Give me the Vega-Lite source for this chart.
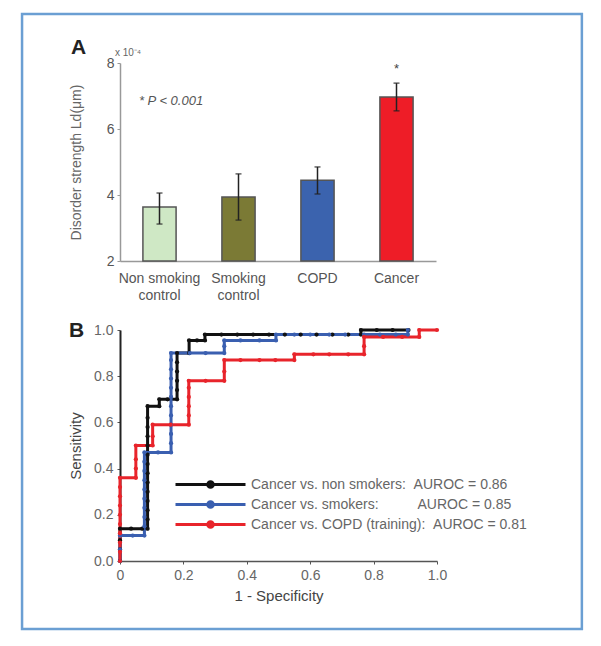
{
  "$schema": "https://vega.github.io/schema/vega-lite/v6.json",
  "padding": {"left": 20, "top": 12, "right": 5, "bottom": 5},
  "bounds": "flush",
  "spacing": 69,
  "resolve": {"scale": {"color": "independent"}, "legend": {"color": "independent"}},
  "config": {
    "font": "Liberation Sans",
    "view": {"stroke": null},
    "axis": {"grid": false, "labelFont": "Liberation Sans", "titleFont": "Liberation Sans", "titleFontWeight": "normal", "labelFlush": false}
  },
  "vconcat": [
    {
      "width": 316,
      "height": 198,
      "data": {"values": [
        {"group": "Non smoking control", "mean": 3.64, "lo": 3.12, "hi": 4.06},
        {"group": "Smoking control", "mean": 3.94, "lo": 3.24, "hi": 4.64},
        {"group": "COPD", "mean": 4.45, "lo": 4.03, "hi": 4.85},
        {"group": "Cancer", "mean": 6.97, "lo": 6.55, "hi": 7.39}
      ]},
      "encoding": {
        "x": {
          "field": "group", "type": "nominal", "sort": null,
          "scale": {"paddingInner": 0.58, "paddingOuter": 0.29},
          "axis": {
            "title": null, "labelAngle": 0, "ticks": false, "domainColor": "#999", "domainWidth": 1.5,
            "labelFontSize": 14, "labelColor": "#555", "labelPadding": 10, "labelLineHeight": 17,
            "labelExpr": "datum.value == 'Non smoking control' ? ['Non smoking', 'control'] : datum.value == 'Smoking control' ? ['Smoking', 'control'] : datum.value"
          }
        }
      },
      "layer": [
        {
          "mark": {"type": "bar", "stroke": "#555", "strokeWidth": 1.5},
          "encoding": {
            "y": {
              "field": "mean", "type": "quantitative", "title": "Disorder strength Ld(μm)",
              "scale": {"domain": [2, 8], "nice": false, "zero": false},
              "axis": {
                "values": [2, 3, 4, 5, 6, 7, 8],
                "labelExpr": "datum.value % 2 == 0 ? datum.label : ''",
                "domainColor": "#999", "domainWidth": 1.5, "tickColor": "#999", "tickSize": 3,
                "labelColor": "#555", "labelFontSize": 14, "labelPadding": 3,
                "titleFontSize": 14, "titleColor": "#666", "titlePadding": 23
              }
            },
            "y2": {"datum": 2},
            "color": {
              "field": "group", "type": "nominal", "legend": null,
              "scale": {"domain": ["Non smoking control", "Smoking control", "COPD", "Cancer"], "range": ["#cfe8c5", "#7b7a35", "#3b63ae", "#ee1d27"]}
            }
          }
        },
        {
          "mark": {"type": "rule", "color": "#222", "strokeWidth": 1.5},
          "encoding": {
            "y": {"field": "lo", "type": "quantitative", "title": "Disorder strength Ld(μm)"},
            "y2": {"field": "hi"}
          }
        },
        {
          "mark": {"type": "tick", "color": "#222", "thickness": 1.5, "size": 6},
          "encoding": {"y": {"field": "lo", "type": "quantitative", "title": "Disorder strength Ld(μm)"}}
        },
        {
          "mark": {"type": "tick", "color": "#222", "thickness": 1.5, "size": 6},
          "encoding": {"y": {"field": "hi", "type": "quantitative", "title": "Disorder strength Ld(μm)"}}
        },
        {
          "data": {"values": [{"group": "Cancer", "v": 7.82, "t": "*"}]},
          "mark": {"type": "text", "fontSize": 13, "color": "#444", "baseline": "middle"},
          "encoding": {
            "y": {"field": "v", "type": "quantitative", "title": "Disorder strength Ld(μm)"},
            "text": {"field": "t"}
          }
        },
        {
          "data": {"values": [{"group": "Non smoking control", "v": 6.85, "t": "*  P < 0.001"}]},
          "mark": {"type": "text", "fontSize": 13, "fontStyle": "italic", "color": "#555", "align": "left", "baseline": "middle", "dx": -4},
          "encoding": {
            "x": {"field": "group", "type": "nominal", "sort": null, "bandPosition": 0},
            "y": {"field": "v", "type": "quantitative", "title": "Disorder strength Ld(μm)"},
            "text": {"field": "t"}
          }
        },
        {
          "data": {"values": [{"group": "Non smoking control", "v": 8.3, "t": "x 10⁻⁴"}]},
          "mark": {"type": "text", "fontSize": 10, "color": "#666", "align": "left", "baseline": "middle", "dx": -28},
          "encoding": {
            "x": {"field": "group", "type": "nominal", "sort": null, "bandPosition": 0},
            "y": {"field": "v", "type": "quantitative", "title": "Disorder strength Ld(μm)"},
            "text": {"field": "t"}
          }
        },
        {
          "data": {"values": [{"group": "Non smoking control", "v": 8.45, "t": "A"}]},
          "mark": {"type": "text", "fontSize": 21, "fontWeight": "bold", "color": "#222", "align": "left", "baseline": "middle", "dx": -72},
          "encoding": {
            "x": {"field": "group", "type": "nominal", "sort": null, "bandPosition": 0},
            "y": {"field": "v", "type": "quantitative", "title": "Disorder strength Ld(μm)"},
            "text": {"field": "t"}
          }
        }
      ]
    },
    {
      "width": 317,
      "height": 231,
      "data": {"values": [
        {"s": "Cancer vs. non smokers", "x": 0, "y": 0},
        {"s": "Cancer vs. non smokers", "x": 0, "y": 0.05},
        {"s": "Cancer vs. non smokers", "x": 0, "y": 0.09},
        {"s": "Cancer vs. non smokers", "x": 0, "y": 0.14},
        {"s": "Cancer vs. non smokers", "x": 0.035, "y": 0.14},
        {"s": "Cancer vs. non smokers", "x": 0.07, "y": 0.14},
        {"s": "Cancer vs. non smokers", "x": 0.087, "y": 0.14},
        {"s": "Cancer vs. non smokers", "x": 0.087, "y": 0.18},
        {"s": "Cancer vs. non smokers", "x": 0.087, "y": 0.22},
        {"s": "Cancer vs. non smokers", "x": 0.087, "y": 0.26},
        {"s": "Cancer vs. non smokers", "x": 0.087, "y": 0.3},
        {"s": "Cancer vs. non smokers", "x": 0.087, "y": 0.34},
        {"s": "Cancer vs. non smokers", "x": 0.087, "y": 0.38},
        {"s": "Cancer vs. non smokers", "x": 0.087, "y": 0.42},
        {"s": "Cancer vs. non smokers", "x": 0.087, "y": 0.46},
        {"s": "Cancer vs. non smokers", "x": 0.087, "y": 0.5},
        {"s": "Cancer vs. non smokers", "x": 0.087, "y": 0.54},
        {"s": "Cancer vs. non smokers", "x": 0.087, "y": 0.58},
        {"s": "Cancer vs. non smokers", "x": 0.087, "y": 0.62},
        {"s": "Cancer vs. non smokers", "x": 0.087, "y": 0.67},
        {"s": "Cancer vs. non smokers", "x": 0.124, "y": 0.67},
        {"s": "Cancer vs. non smokers", "x": 0.124, "y": 0.7},
        {"s": "Cancer vs. non smokers", "x": 0.15, "y": 0.7},
        {"s": "Cancer vs. non smokers", "x": 0.18, "y": 0.7},
        {"s": "Cancer vs. non smokers", "x": 0.18, "y": 0.74},
        {"s": "Cancer vs. non smokers", "x": 0.18, "y": 0.78},
        {"s": "Cancer vs. non smokers", "x": 0.18, "y": 0.82},
        {"s": "Cancer vs. non smokers", "x": 0.18, "y": 0.86},
        {"s": "Cancer vs. non smokers", "x": 0.18, "y": 0.9},
        {"s": "Cancer vs. non smokers", "x": 0.218, "y": 0.9},
        {"s": "Cancer vs. non smokers", "x": 0.218, "y": 0.955},
        {"s": "Cancer vs. non smokers", "x": 0.243, "y": 0.955},
        {"s": "Cancer vs. non smokers", "x": 0.268, "y": 0.955},
        {"s": "Cancer vs. non smokers", "x": 0.268, "y": 0.98},
        {"s": "Cancer vs. non smokers", "x": 0.32, "y": 0.98},
        {"s": "Cancer vs. non smokers", "x": 0.37, "y": 0.98},
        {"s": "Cancer vs. non smokers", "x": 0.42, "y": 0.98},
        {"s": "Cancer vs. non smokers", "x": 0.47, "y": 0.98},
        {"s": "Cancer vs. non smokers", "x": 0.52, "y": 0.98},
        {"s": "Cancer vs. non smokers", "x": 0.57, "y": 0.98},
        {"s": "Cancer vs. non smokers", "x": 0.62, "y": 0.98},
        {"s": "Cancer vs. non smokers", "x": 0.67, "y": 0.98},
        {"s": "Cancer vs. non smokers", "x": 0.72, "y": 0.98},
        {"s": "Cancer vs. non smokers", "x": 0.76, "y": 0.98},
        {"s": "Cancer vs. non smokers", "x": 0.76, "y": 1.0},
        {"s": "Cancer vs. non smokers", "x": 0.81, "y": 1.0},
        {"s": "Cancer vs. non smokers", "x": 0.86, "y": 1.0},
        {"s": "Cancer vs. non smokers", "x": 0.91, "y": 1.0},
        {"s": "Cancer vs. smokers", "x": 0, "y": 0},
        {"s": "Cancer vs. smokers", "x": 0, "y": 0.05},
        {"s": "Cancer vs. smokers", "x": 0, "y": 0.11},
        {"s": "Cancer vs. smokers", "x": 0.04, "y": 0.11},
        {"s": "Cancer vs. smokers", "x": 0.077, "y": 0.11},
        {"s": "Cancer vs. smokers", "x": 0.077, "y": 0.15},
        {"s": "Cancer vs. smokers", "x": 0.077, "y": 0.19},
        {"s": "Cancer vs. smokers", "x": 0.077, "y": 0.23},
        {"s": "Cancer vs. smokers", "x": 0.077, "y": 0.27},
        {"s": "Cancer vs. smokers", "x": 0.077, "y": 0.31},
        {"s": "Cancer vs. smokers", "x": 0.077, "y": 0.35},
        {"s": "Cancer vs. smokers", "x": 0.077, "y": 0.39},
        {"s": "Cancer vs. smokers", "x": 0.077, "y": 0.43},
        {"s": "Cancer vs. smokers", "x": 0.077, "y": 0.47},
        {"s": "Cancer vs. smokers", "x": 0.12, "y": 0.47},
        {"s": "Cancer vs. smokers", "x": 0.161, "y": 0.47},
        {"s": "Cancer vs. smokers", "x": 0.161, "y": 0.51},
        {"s": "Cancer vs. smokers", "x": 0.161, "y": 0.55},
        {"s": "Cancer vs. smokers", "x": 0.161, "y": 0.59},
        {"s": "Cancer vs. smokers", "x": 0.161, "y": 0.63},
        {"s": "Cancer vs. smokers", "x": 0.161, "y": 0.67},
        {"s": "Cancer vs. smokers", "x": 0.161, "y": 0.71},
        {"s": "Cancer vs. smokers", "x": 0.161, "y": 0.75},
        {"s": "Cancer vs. smokers", "x": 0.161, "y": 0.79},
        {"s": "Cancer vs. smokers", "x": 0.161, "y": 0.83},
        {"s": "Cancer vs. smokers", "x": 0.161, "y": 0.87},
        {"s": "Cancer vs. smokers", "x": 0.161, "y": 0.9},
        {"s": "Cancer vs. smokers", "x": 0.22, "y": 0.9},
        {"s": "Cancer vs. smokers", "x": 0.27, "y": 0.9},
        {"s": "Cancer vs. smokers", "x": 0.329, "y": 0.9},
        {"s": "Cancer vs. smokers", "x": 0.329, "y": 0.93},
        {"s": "Cancer vs. smokers", "x": 0.329, "y": 0.955},
        {"s": "Cancer vs. smokers", "x": 0.38, "y": 0.955},
        {"s": "Cancer vs. smokers", "x": 0.44, "y": 0.955},
        {"s": "Cancer vs. smokers", "x": 0.492, "y": 0.955},
        {"s": "Cancer vs. smokers", "x": 0.492, "y": 0.98},
        {"s": "Cancer vs. smokers", "x": 0.55, "y": 0.98},
        {"s": "Cancer vs. smokers", "x": 0.6, "y": 0.98},
        {"s": "Cancer vs. smokers", "x": 0.66, "y": 0.98},
        {"s": "Cancer vs. smokers", "x": 0.71, "y": 0.98},
        {"s": "Cancer vs. smokers", "x": 0.77, "y": 0.98},
        {"s": "Cancer vs. smokers", "x": 0.82, "y": 0.98},
        {"s": "Cancer vs. smokers", "x": 0.87, "y": 0.98},
        {"s": "Cancer vs. smokers", "x": 0.908, "y": 0.98},
        {"s": "Cancer vs. smokers", "x": 0.908, "y": 1.0},
        {"s": "Cancer vs. COPD (training)", "x": 0, "y": 0},
        {"s": "Cancer vs. COPD (training)", "x": 0, "y": 0.04},
        {"s": "Cancer vs. COPD (training)", "x": 0, "y": 0.08},
        {"s": "Cancer vs. COPD (training)", "x": 0, "y": 0.12},
        {"s": "Cancer vs. COPD (training)", "x": 0, "y": 0.16},
        {"s": "Cancer vs. COPD (training)", "x": 0, "y": 0.2},
        {"s": "Cancer vs. COPD (training)", "x": 0, "y": 0.24},
        {"s": "Cancer vs. COPD (training)", "x": 0, "y": 0.28},
        {"s": "Cancer vs. COPD (training)", "x": 0, "y": 0.32},
        {"s": "Cancer vs. COPD (training)", "x": 0, "y": 0.36},
        {"s": "Cancer vs. COPD (training)", "x": 0.05, "y": 0.36},
        {"s": "Cancer vs. COPD (training)", "x": 0.05, "y": 0.4},
        {"s": "Cancer vs. COPD (training)", "x": 0.05, "y": 0.44},
        {"s": "Cancer vs. COPD (training)", "x": 0.05, "y": 0.5},
        {"s": "Cancer vs. COPD (training)", "x": 0.103, "y": 0.5},
        {"s": "Cancer vs. COPD (training)", "x": 0.103, "y": 0.54},
        {"s": "Cancer vs. COPD (training)", "x": 0.103, "y": 0.59},
        {"s": "Cancer vs. COPD (training)", "x": 0.16, "y": 0.59},
        {"s": "Cancer vs. COPD (training)", "x": 0.217, "y": 0.59},
        {"s": "Cancer vs. COPD (training)", "x": 0.217, "y": 0.63},
        {"s": "Cancer vs. COPD (training)", "x": 0.217, "y": 0.67},
        {"s": "Cancer vs. COPD (training)", "x": 0.217, "y": 0.71},
        {"s": "Cancer vs. COPD (training)", "x": 0.217, "y": 0.75},
        {"s": "Cancer vs. COPD (training)", "x": 0.217, "y": 0.78},
        {"s": "Cancer vs. COPD (training)", "x": 0.27, "y": 0.78},
        {"s": "Cancer vs. COPD (training)", "x": 0.329, "y": 0.78},
        {"s": "Cancer vs. COPD (training)", "x": 0.329, "y": 0.82},
        {"s": "Cancer vs. COPD (training)", "x": 0.329, "y": 0.87},
        {"s": "Cancer vs. COPD (training)", "x": 0.38, "y": 0.87},
        {"s": "Cancer vs. COPD (training)", "x": 0.44, "y": 0.87},
        {"s": "Cancer vs. COPD (training)", "x": 0.49, "y": 0.87},
        {"s": "Cancer vs. COPD (training)", "x": 0.55, "y": 0.87},
        {"s": "Cancer vs. COPD (training)", "x": 0.55, "y": 0.895},
        {"s": "Cancer vs. COPD (training)", "x": 0.61, "y": 0.895},
        {"s": "Cancer vs. COPD (training)", "x": 0.66, "y": 0.895},
        {"s": "Cancer vs. COPD (training)", "x": 0.72, "y": 0.895},
        {"s": "Cancer vs. COPD (training)", "x": 0.77, "y": 0.895},
        {"s": "Cancer vs. COPD (training)", "x": 0.77, "y": 0.93},
        {"s": "Cancer vs. COPD (training)", "x": 0.77, "y": 0.97},
        {"s": "Cancer vs. COPD (training)", "x": 0.83, "y": 0.97},
        {"s": "Cancer vs. COPD (training)", "x": 0.89, "y": 0.97},
        {"s": "Cancer vs. COPD (training)", "x": 0.944, "y": 0.97},
        {"s": "Cancer vs. COPD (training)", "x": 0.944, "y": 1.0},
        {"s": "Cancer vs. COPD (training)", "x": 1.0, "y": 1.0}
      ]},
      "layer": [
        {
          "data": {"values": [{}]},
          "mark": {"type": "rect", "fill": null, "stroke": "#6b9fd3", "strokeWidth": 2.5},
          "encoding": {
            "x": {"datum": -0.309, "type": "quantitative"},
            "x2": {"datum": 1.457},
            "y": {"datum": -0.294, "type": "quantitative"},
            "y2": {"datum": 2.368}
          }
        },
        {
          "data": {"values": [{"t": "B"}]},
          "mark": {"type": "text", "fontSize": 21, "fontWeight": "bold", "color": "#222", "align": "left", "baseline": "middle", "dx": -51, "dy": 1},
          "encoding": {
            "x": {"datum": 0, "type": "quantitative"},
            "y": {"datum": 1, "type": "quantitative"},
            "text": {"field": "t"}
          }
        },
        {
          "mark": {"type": "line", "strokeWidth": 3},
          "encoding": {
            "x": {
              "field": "x", "type": "quantitative", "title": "1 - Specificity",
              "scale": {"domain": [0, 1], "nice": false},
              "axis": {
                "values": [0, 0.2, 0.4, 0.6, 0.8, 1.0],
                "labelExpr": "datum.value == 0 ? '0' : format(datum.value, '.1f')",
                "domainColor": "#555", "domainWidth": 1.5, "tickColor": "#555", "tickSize": 3,
                "labelColor": "#666", "labelFontSize": 14, "labelPadding": 4,
                "titleFontSize": 15, "titleColor": "#444", "titlePadding": 6
              }
            },
            "y": {
              "field": "y", "type": "quantitative", "title": "Sensitivity",
              "scale": {"domain": [0, 1], "nice": false},
              "axis": {
                "values": [0, 0.2, 0.4, 0.6, 0.8, 1.0], "format": ".1f",
                "domainColor": "#222", "domainWidth": 2, "tickColor": "#555", "tickSize": 3,
                "labelColor": "#666", "labelFontSize": 14, "labelPadding": 4,
                "titleFontSize": 15, "titleColor": "#444", "titlePadding": 10
              }
            },
            "color": {
              "field": "s", "type": "nominal",
              "scale": {"domain": ["Cancer vs. non smokers", "Cancer vs. smokers", "Cancer vs. COPD (training)"], "range": ["#111111", "#3a5fb0", "#e8242b"]},
              "legend": {
                "orient": "none", "legendX": 82, "legendY": 146, "title": null, "padding": 0,
                "symbolType": "M-5,0L5,0M-0.4,0A0.4,0.4 0 1,0 0.4,0A0.4,0.4 0 1,0 -0.4,0",
                "symbolSize": 196, "symbolStrokeWidth": 3,
                "labelFontSize": 14, "labelColor": "#666", "labelOffset": 32, "rowPadding": 1,
                "labelLimit": 400,
                "labelExpr": "datum.label == 'Cancer vs. non smokers' ? 'Cancer vs. non smokers:\u00a0\u00a0AUROC = 0.86' : datum.label == 'Cancer vs. smokers' ? 'Cancer vs. smokers:\u00a0\u00a0\u00a0\u00a0\u00a0\u00a0\u00a0\u00a0\u00a0\u00a0AUROC = 0.85' : 'Cancer vs. COPD (training):\u00a0\u00a0AUROC = 0.81'",
                "encode": {"symbols": {"update": {"fill": {"scale": "color", "field": "value"}}}}
              }
            },
            "detail": {"field": "s"},
            "order": {"value": null}
          }
        },
        {
          "mark": {"type": "point", "filled": true, "size": 18, "opacity": 1},
          "encoding": {
            "x": {"field": "x", "type": "quantitative", "title": "1 - Specificity"},
            "y": {"field": "y", "type": "quantitative", "title": "Sensitivity"},
            "color": {"field": "s", "type": "nominal"}
          }
        }
      ]
    }
  ]
}
